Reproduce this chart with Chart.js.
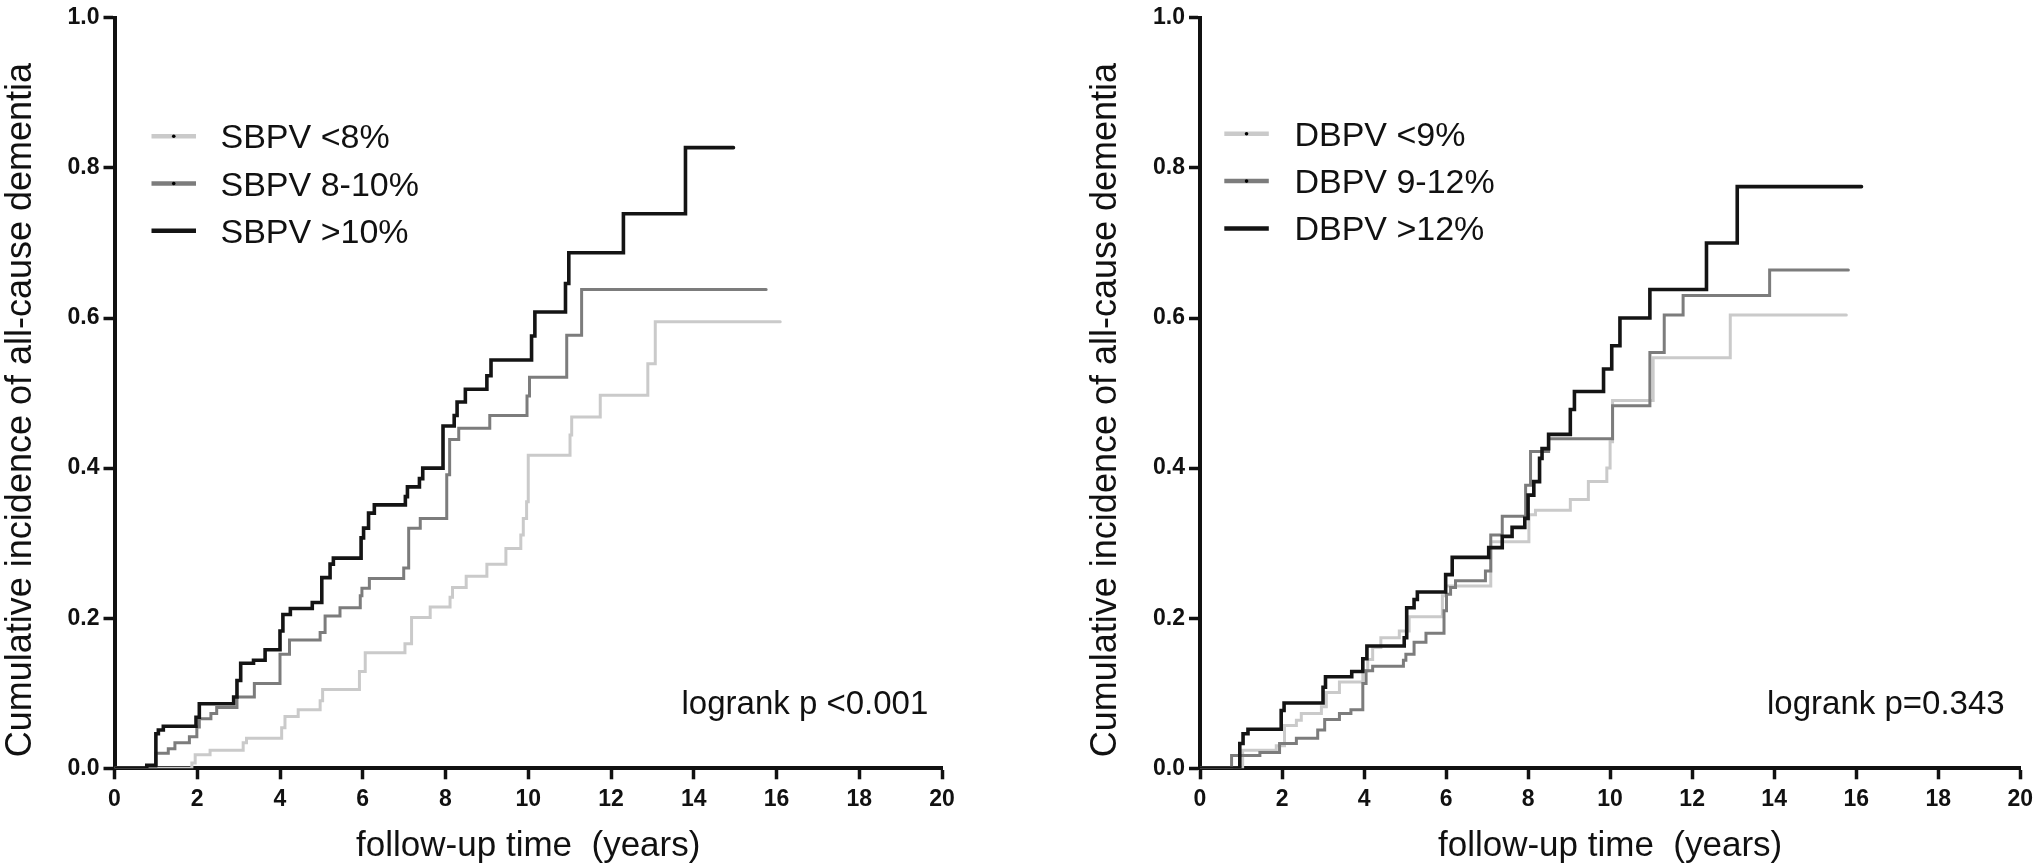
<!DOCTYPE html>
<html>
<head>
<meta charset="utf-8">
<script src="https://cdn.jsdelivr.net/npm/chart.js@4.4.1/dist/chart.umd.min.js"></script>
<style>
  body { margin: 0; background: #fff; }
  #wrap { position: relative; width: 2040px; height: 868px; }
  .panel { position: absolute; top: 0; width: 1020px; height: 868px; }
</style>
</head>
<body>
<div id="wrap">
  <div class="panel" style="left:0"><canvas id="leftChart" width="1020" height="868"></canvas></div>
  <div class="panel" style="left:1020px"><canvas id="rightChart" width="1020" height="868"></canvas></div>
</div>
<script>
// tick values
const xTickValues = [0, 2, 4, 6, 8, 10, 12, 14, 16, 18, 20];
const yTickValues = [0, 0.2, 0.4, 0.6, 0.8, 1.0];

// left panel - systolic BP variability
const sbpvLabels = ['SBPV <8%', 'SBPV 8-10%', 'SBPV >10%'];
const sbpvLowTime = [0, 1.87, 1.95, 2.31, 3.11, 3.19, 4.04, 4.12, 4.44, 4.97, 5.03, 5.92, 6.06, 7.02, 7.18, 7.63, 8.11, 8.17, 8.5, 9.0, 9.46, 9.82, 9.88, 9.96, 10.0, 11.01, 11.05, 11.74, 12.89, 13.07, 16.09];
const sbpvLowInc = [0, 0.007, 0.018, 0.024, 0.034, 0.04, 0.054, 0.069, 0.078, 0.09, 0.105, 0.129, 0.154, 0.166, 0.201, 0.215, 0.228, 0.241, 0.256, 0.272, 0.293, 0.311, 0.333, 0.355, 0.417, 0.444, 0.468, 0.497, 0.539, 0.595, 0.595];
const sbpvMidTime = [0, 1.0, 1.3, 1.46, 1.81, 1.99, 2.05, 2.33, 2.47, 2.96, 3.38, 4.0, 4.23, 4.97, 5.09, 5.45, 5.94, 5.98, 6.16, 6.99, 7.11, 7.39, 8.03, 8.1, 8.32, 9.07, 9.97, 10.03, 10.93, 11.29, 15.75];
const sbpvMidInc = [0, 0.02, 0.026, 0.034, 0.042, 0.055, 0.066, 0.073, 0.081, 0.095, 0.113, 0.152, 0.171, 0.181, 0.203, 0.214, 0.23, 0.24, 0.253, 0.267, 0.32, 0.333, 0.391, 0.438, 0.453, 0.47, 0.496, 0.521, 0.577, 0.638, 0.638];
const sbpvHighTime = [0, 0.78, 1.0, 1.06, 1.18, 1.97, 2.05, 2.88, 2.96, 3.05, 3.36, 3.64, 4.0, 4.07, 4.25, 4.78, 5.01, 5.21, 5.29, 5.96, 6.02, 6.14, 6.28, 7.03, 7.08, 7.37, 7.45, 7.94, 8.21, 8.28, 8.48, 9.0, 9.1, 10.08, 10.16, 10.9, 10.98, 12.3, 13.8, 14.96];
const sbpvHighInc = [0, 0.004, 0.046, 0.051, 0.056, 0.068, 0.086, 0.095, 0.117, 0.14, 0.144, 0.158, 0.183, 0.205, 0.213, 0.221, 0.254, 0.272, 0.28, 0.307, 0.32, 0.34, 0.351, 0.362, 0.375, 0.386, 0.4, 0.456, 0.47, 0.488, 0.505, 0.523, 0.544, 0.576, 0.608, 0.646, 0.687, 0.739, 0.827, 0.827];

// right panel - diastolic BP variability
const dbpvLabels = ['DBPV <9%', 'DBPV 9-12%', 'DBPV >12%'];
const dbpvLowTime = [0, 1.04, 1.86, 2.06, 2.35, 2.47, 2.96, 3.08, 3.4, 3.97, 4.09, 4.21, 4.41, 4.86, 5.1, 5.91, 5.99, 7.09, 8.02, 8.18, 9.03, 9.47, 9.92, 10.0, 10.06, 11.05, 12.93, 15.76];
const dbpvLowInc = [0, 0.024, 0.03, 0.057, 0.064, 0.073, 0.082, 0.101, 0.115, 0.13, 0.145, 0.161, 0.174, 0.183, 0.202, 0.23, 0.243, 0.302, 0.338, 0.344, 0.358, 0.382, 0.4, 0.435, 0.49, 0.547, 0.604, 0.604];
const dbpvMidTime = [0, 0.77, 1.46, 1.94, 2.35, 2.87, 3.04, 3.4, 3.68, 3.97, 4.05, 4.21, 4.96, 5.02, 5.22, 5.51, 5.95, 6.01, 6.11, 6.23, 6.96, 7.09, 7.37, 7.94, 8.06, 8.5, 10.06, 10.97, 11.32, 11.78, 13.89, 15.81];
const dbpvMidInc = [0, 0.017, 0.021, 0.033, 0.04, 0.051, 0.065, 0.073, 0.078, 0.113, 0.13, 0.136, 0.144, 0.152, 0.168, 0.18, 0.21, 0.232, 0.241, 0.25, 0.263, 0.311, 0.336, 0.377, 0.422, 0.439, 0.483, 0.554, 0.604, 0.63, 0.664, 0.664];
const dbpvHighTime = [0, 0.97, 1.05, 1.17, 1.98, 2.05, 3.0, 3.06, 3.7, 3.97, 4.07, 4.98, 5.04, 5.22, 5.3, 5.99, 6.15, 7.04, 7.37, 7.61, 7.92, 8.0, 8.14, 8.28, 8.34, 8.5, 9.03, 9.13, 9.84, 10.04, 10.24, 10.97, 12.35, 13.1, 16.13];
const dbpvHighInc = [0, 0.033, 0.046, 0.052, 0.077, 0.087, 0.108, 0.122, 0.129, 0.146, 0.163, 0.174, 0.214, 0.225, 0.235, 0.258, 0.281, 0.294, 0.309, 0.321, 0.333, 0.364, 0.382, 0.413, 0.426, 0.445, 0.478, 0.502, 0.532, 0.563, 0.6, 0.638, 0.7, 0.775, 0.775];

const pValues = ['logrank p <0.001', 'logrank p=0.343'];
const yTitle = 'Cumulative incidence of all-cause dementia';
const xTitle = 'follow-up time  (years)';

// light, mid, dark
const lineColors = ['#cacaca', '#7c7c7c', '#141414'];
const lineWidths = [3, 3, 3.6];
const FONT = '"Liberation Sans", Arial, sans-serif';

function toPoints(t, v) {
    return t.map((x, i) => ({ x: x, y: v[i] }));
}

// legend, p-value and rotated y title drawn on top
const kmExtras = {
    id: 'kmExtras',
    afterDraw(chart, args, o) {
        const ctx = chart.ctx;
        const area = chart.chartArea;

        ctx.save();
        ctx.fillStyle = '#111';
        ctx.font = '36px ' + FONT;
        ctx.textAlign = 'center';
        ctx.textBaseline = 'alphabetic';
        ctx.translate(area.left - 84, (area.top + area.bottom) / 2 + 17);
        ctx.rotate(-Math.PI / 2);
        ctx.fillText(yTitle, 0, 0);
        ctx.restore();

        ctx.save();
        ctx.font = '34px ' + FONT;
        ctx.textAlign = 'left';
        ctx.textBaseline = 'alphabetic';
        o.labels.forEach((label, i) => {
            const y = area.top + o.legendTop + i * 47.3;
            const x1 = area.left + o.lineStart;
            const x2 = x1 + 44.5;
            ctx.strokeStyle = lineColors[i];
            ctx.lineWidth = 4.5;
            ctx.beginPath();
            ctx.moveTo(x1, y);
            ctx.lineTo(x2, y);
            ctx.stroke();
            if (i < 2) {
                ctx.fillStyle = '#000';
                ctx.beginPath();
                ctx.arc((x1 + x2) / 2, y, 1.8, 0, Math.PI * 2);
                ctx.fill();
            }
            ctx.fillStyle = '#111';
            ctx.fillText(label, area.left + o.textX, y + 12);
        });

        ctx.font = '33px ' + FONT;
        ctx.fillText(o.pText, area.left + 567, area.bottom - 54);
        ctx.restore();
    }
};

function makeChart(id, series, labels, opts) {
    const ctx = document.getElementById(id).getContext('2d');
    // reversed so the darkest line is drawn on top
    const datasets = [2, 1, 0].map(i => ({
        label: labels[i],
        data: toPoints(series[i][0], series[i][1]),
        borderColor: lineColors[i],
        borderWidth: lineWidths[i],
        stepped: 'before',
        pointRadius: 0,
        fill: false,
        borderCapStyle: 'round',
        borderJoinStyle: 'miter'
    }));

    return new Chart(ctx, {
        type: 'line',
        data: { datasets: datasets },
        plugins: [kmExtras],
        options: {
            responsive: false,
            animation: false,
            layout: { padding: { left: 0, top: 13.3, right: opts.padRight, bottom: 0 } },
            plugins: {
                legend: { display: false },
                tooltip: { enabled: false },
                kmExtras: {
                    labels: labels,
                    legendTop: opts.legendTop,
                    lineStart: opts.lineStart,
                    textX: opts.textX,
                    pText: opts.pText
                }
            },
            scales: {
                x: {
                    type: 'linear',
                    min: 0,
                    max: 20,
                    afterBuildTicks: s => { s.ticks = xTickValues.map(v => ({ value: v })); },
                    afterFit: s => { s.height = 99.7; },
                    ticks: {
                        autoSkip: false,
                        maxRotation: 0,
                        padding: 7,
                        color: '#111',
                        font: { family: FONT, size: 23, weight: 'bold' }
                    },
                    grid: {
                        drawOnChartArea: false,
                        drawTicks: true,
                        tickLength: 11,
                        tickWidth: 3.5,
                        tickColor: '#111'
                    },
                    border: { display: true, color: '#111', width: 4 },
                    title: {
                        display: true,
                        text: xTitle,
                        color: '#111',
                        font: { family: FONT, size: 35 },
                        padding: { top: 0, bottom: 1 }
                    }
                },
                y: {
                    type: 'linear',
                    min: 0,
                    max: 1,
                    afterBuildTicks: s => { s.ticks = yTickValues.map(v => ({ value: v })); },
                    afterFit: s => { s.width = opts.yWidth; },
                    ticks: {
                        padding: 4,
                        color: '#111',
                        font: { family: FONT, size: 23, weight: 'bold' },
                        callback: v => v.toFixed(1)
                    },
                    grid: {
                        drawOnChartArea: false,
                        drawTicks: true,
                        tickLength: 11,
                        tickWidth: 3.5,
                        tickColor: '#111'
                    },
                    border: { display: true, color: '#111', width: 4 }
                }
            }
        }
    });
}

makeChart('leftChart',
    [[sbpvLowTime, sbpvLowInc], [sbpvMidTime, sbpvMidInc], [sbpvHighTime, sbpvHighInc]],
    sbpvLabels,
    { yWidth: 114.5, padRight: 78, legendTop: 118.4, lineStart: 37, textX: 106, pText: pValues[0] });

makeChart('rightChart',
    [[dbpvLowTime, dbpvLowInc], [dbpvMidTime, dbpvMidInc], [dbpvHighTime, dbpvHighInc]],
    dbpvLabels,
    { yWidth: 180, padRight: 16.6, legendTop: 116, lineStart: 24.3, textX: 94.4, pText: pValues[1] });
</script>
</body>
</html>
